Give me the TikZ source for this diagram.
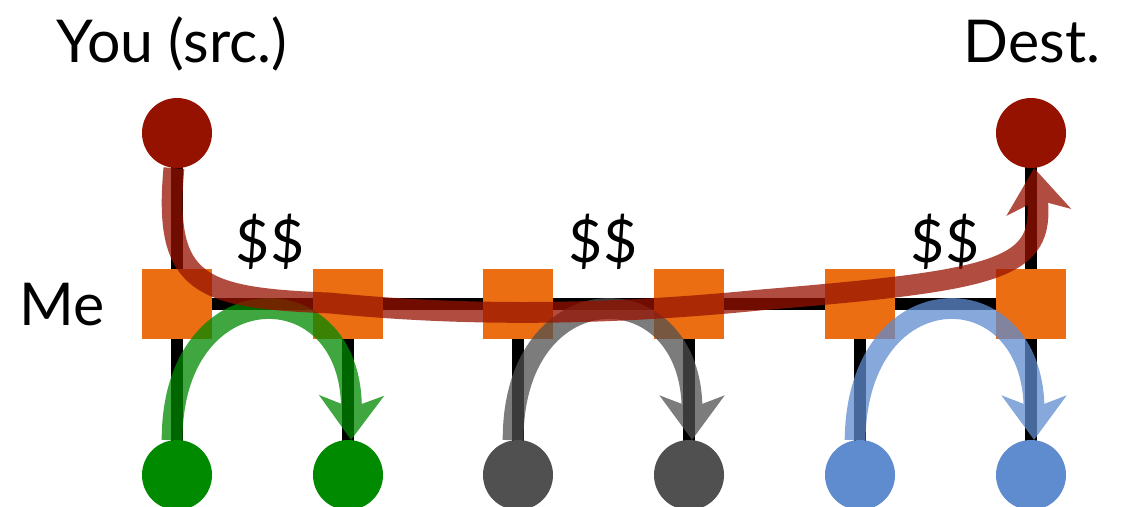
\documentclass[tikz,border=0pt]{standalone}
\usepackage{fontspec}
\setmainfont{Lato}
\usetikzlibrary{arrows.meta,backgrounds}

\definecolor{hostred}{RGB}{150,18,0}
\definecolor{routerorange}{RGB}{236,110,19}
\definecolor{hostgreen}{RGB}{0,138,0}
\definecolor{hostgray}{RGB}{80,80,80}
\definecolor{hostblue}{RGB}{95,139,207}

\begin{document}
\begin{tikzpicture}[x=0.025cm, y=-0.025cm,
	host/.style={circle, fill=#1, inner sep=0, minimum size=1.75cm},
	router/.style={rectangle, fill=routerorange, inner sep=0, minimum size=1.75cm},
	wire/.style={line width=0.3cm},
	flow/.style={line width=0.52cm, draw=#1, -{Stealth[length=1.1cm, width=1.6cm, inset=0.3cm]}},
	lbl/.style={font=\fontsize{42}{50}\selectfont, inner sep=0}]
\useasboundingbox (0,0) rectangle (1127,507);

\node[host=hostred] (src) at (177,133) {};
\node[host=hostred] (dst) at (1031,133) {};
\node[router] (r1) at (177,304) {};
\node[router] (r2) at (348,304) {};
\node[router] (r3) at (518,304) {};
\node[router] (r4) at (689,304) {};
\node[router] (r5) at (860,304) {};
\node[router] (r6) at (1031,304) {};
\node[host=hostgreen] (h1) at (177,475) {};
\node[host=hostgreen] (h2) at (348,475) {};
\node[host=hostgray] (h3) at (518,475) {};
\node[host=hostgray] (h4) at (689,475) {};
\node[host=hostblue] (h5) at (860,475) {};
\node[host=hostblue] (h6) at (1031,475) {};

\node[lbl, anchor=base] (you) at (172,62) {You (src.)};
\node[lbl, anchor=base] (dest) at (1032,62) {Dest.};
\node[lbl, anchor=base] (me) at (62,325) {Me};
\node[lbl, anchor=base] (c1) at (270,262) {\$\$};
\node[lbl, anchor=base] (c2) at (603,262) {\$\$};
\node[lbl, anchor=base] (c3) at (945,262) {\$\$};

% links, hidden under the routers
\begin{scope}[on background layer]
\draw[wire] (src.center) -- (r1.center) -- (r6.center) -- (dst.center);
\draw[wire] (r1.center) -- (h1.center);
\draw[wire] (r2.center) -- (h2.center);
\draw[wire] (r3.center) -- (h3.center);
\draw[wire] (r4.center) -- (h4.center);
\draw[wire] (r5.center) -- (h5.center);
\draw[wire] (r6.center) -- (h6.center);
\end{scope}

% traffic
\begin{scope}[transparency group, opacity=.75]
\draw[flow=hostgreen] (h1.98) .. controls (172,270) and (353,270) .. (h2.85);
\end{scope}
\begin{scope}[transparency group, opacity=.75]
\draw[flow=hostgray] (h3.98) .. controls (513,270) and (692,270) .. (h4.85);
\end{scope}
\begin{scope}[transparency group, opacity=.75]
\draw[flow=hostblue] (h5.98) .. controls (857,270) and (1034,270) .. (h6.85);
\end{scope}
\begin{scope}[transparency group, opacity=.75]
\draw[flow=hostred] (src.265) .. controls (163,285) and (200,298) .. (330,303)
	.. controls (460,316) and (600,316) .. (760,300)
	.. controls (1000,280) and (1045,270) .. (dst.275);
\end{scope}

\end{tikzpicture}
\end{document}
